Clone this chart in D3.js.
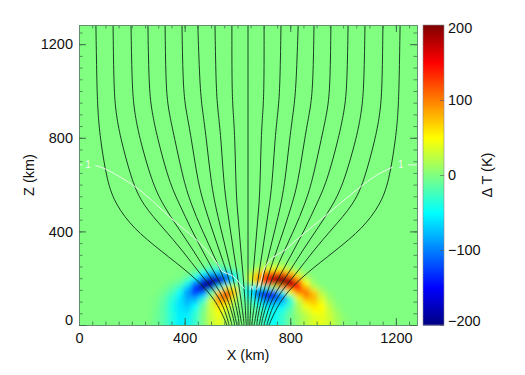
<!DOCTYPE html>
<html>
<head>
<meta charset="utf-8">
<script src="https://cdn.jsdelivr.net/npm/d3@7"></script>
<style>
  html, body { margin: 0; padding: 0; background: #fff; }
  text { font-family: "Liberation Sans", Arial, sans-serif; fill: #111; }
</style>
</head>
<body>
<svg id="chart" width="525" height="375"></svg>
<script>
// temperature difference (K)
const heatX = [290, 320, 350, 380, 410, 440, 470, 500, 530, 560, 590, 620, 650, 680, 710, 740, 770, 800, 830, 860, 890, 920, 950, 980, 1010];
const heatZ = [300, 280, 260, 240, 220, 200, 180, 160, 140, 120, 100, 80, 60, 40, 20, 0];
const heatValues = [
  [0, 0, 0, 0, 0, 0, 0, 0, 0, 0, 0, 0, 0, 0, 0, 0, 0, 0, 0, 0, 0, 0, 0, 0, 0],
  [0, 0, 0, 0, 0, 0, 0, 0, 0, 0, 0, 0, 0, 0, 3, 4, 3, 0, 0, 0, 0, 0, 0, 0, 0],
  [0, 0, 0, 0, 0, 0, -2, -6, -6, -3, 0, 0, 0, 4, 10, 14, 10, 5, 0, 0, 0, 0, 0, 0, 0],
  [0, 0, 0, 0, 0, -4, -12, -25, -28, -15, -5, 0, 5, 18, 35, 42, 38, 20, 6, 0, 0, 0, 0, 0, 0],
  [0, 0, 0, 0, -4, -15, -50, -80, -85, -70, -30, -5, 25, 70, 110, 120, 120, 80, 30, 6, 0, 0, 0, 0, 0],
  [0, 0, 0, -3, -15, -50, -110, -170, -180, -130, -45, -5, 40, 95, 150, 190, 205, 160, 80, 20, 3, 0, 0, 0, 0],
  [0, 0, -5, -12, -40, -100, -180, -230, -170, -70, -15, -15, 20, 70, 120, 170, 210, 200, 130, 50, 10, 0, 0, 0, 0],
  [0, -3, -12, -30, -70, -130, -190, -170, -40, 40, 40, -25, -45, -50, -30, 20, 90, 150, 140, 80, 25, 5, 0, 0, 0],
  [0, -6, -20, -45, -90, -130, -120, -20, 70, 120, 70, -25, -60, -120, -140, -110, -40, 50, 100, 105, 70, 20, 3, 0, 0],
  [-2, -12, -30, -55, -85, -95, -60, 10, 100, 115, 40, -15, -40, -95, -130, -140, -100, -20, 55, 95, 80, 30, 8, 0, 0],
  [-3, -14, -35, -60, -80, -70, -25, 35, 85, 75, 20, -8, -22, -55, -90, -90, -80, -35, 25, 65, 72, 42, 14, 2, 0],
  [-4, -16, -38, -60, -70, -50, -10, 30, 65, 45, 10, -5, -12, -30, -55, -65, -55, -25, 15, 45, 60, 50, 22, 5, 0],
  [-5, -17, -38, -58, -62, -38, -5, 30, 50, 30, 5, -3, -8, -18, -40, -50, -40, -15, 15, 32, 50, 48, 26, 8, 0],
  [-6, -17, -37, -55, -58, -32, 0, 28, 44, 22, 3, 0, -5, -15, -35, -48, -30, -8, 8, 24, 38, 42, 30, 14, 3],
  [-6, -17, -36, -55, -55, -30, 0, 26, 40, 18, 2, 0, -5, -15, -35, -48, -30, -8, 8, 22, 36, 40, 30, 14, 3],
  [-6, -17, -36, -55, -55, -30, 0, 26, 40, 18, 2, 0, -5, -15, -35, -48, -30, -8, 8, 22, 36, 40, 30, 14, 3]
];

// field lines: x (km) of each line at the heights in lineZ
const lineZ = [1282, 1004, 907, 808, 611, 513, 415, 316, 218, 120, 21, 0];
const fieldLines = [
  [64, 68, 72, 79, 106, 140, 204, 310, 424, 511, 553, 560],
  [129, 132, 140, 155, 201, 242, 318, 394, 458, 534, 564, 568],
  [197, 201, 211, 227, 276, 318, 375, 435, 488, 549, 575, 579],
  [261, 265, 277, 295, 341, 382, 422, 468, 516, 562, 587, 589],
  [326, 329, 341, 360, 397, 426, 462, 503, 542, 575, 594, 598],
  [390, 394, 407, 424, 450, 474, 502, 532, 562, 587, 606, 606],
  [450, 458, 469, 481, 500, 516, 536, 558, 580, 599, 613, 617],
  [515, 519, 527, 537, 548, 559, 572, 585, 599, 612, 624, 625],
  [579, 579, 584, 590, 594, 598, 606, 613, 621, 628, 632, 634],
  [640, 640, 640, 640, 640, 640, 640, 640, 640, 640, 640, 640],
  [701, 701, 696, 690, 686, 682, 674, 667, 659, 652, 648, 646],
  [765, 761, 753, 743, 732, 721, 708, 695, 681, 668, 656, 655],
  [830, 822, 811, 799, 780, 764, 744, 722, 700, 681, 667, 663],
  [890, 886, 873, 856, 830, 806, 778, 748, 718, 693, 674, 674],
  [954, 951, 939, 920, 883, 854, 818, 777, 738, 705, 686, 682],
  [1019, 1015, 1003, 985, 939, 898, 858, 812, 764, 718, 693, 691],
  [1083, 1079, 1069, 1053, 1004, 962, 905, 845, 792, 731, 705, 701],
  [1151, 1148, 1140, 1125, 1079, 1038, 962, 886, 822, 746, 716, 712],
  [1216, 1212, 1208, 1201, 1174, 1140, 1076, 970, 856, 769, 727, 720]
];

// white contour labelled 1, as [x, z] pieces
const whiteLine = [
  [[0, 684], [13, 684]],
  [[61, 681], [91, 671], [155, 633], [219, 586], [269, 539], [356, 449], [458, 350], [522, 265], [541, 231], [583, 209], [617, 167], [628, 154]],
  [[647, 150], [655, 167], [659, 150]],
  [[670, 150], [685, 175], [700, 235], [723, 278], [780, 321], [836, 376], [923, 457], [1014, 543], [1075, 598], [1128, 641], [1188, 675]],
  [[1245, 684], [1280, 684]]
];
const whiteLabels = [[34, 684], [1219, 684]];

const xTicks = [0, 400, 800, 1200];
const zTicks = [0, 400, 800, 1200];
const xMinor = d3.range(0, 1281, 50);
const zMinor = d3.range(0, 1281, 50);
const barTicks = [-200, -100, 0, 100, 200];

const left = 79, right = 417, top_ = 25, bottom = 325;
const barLeft = 423, barRight = 444;

const x = d3.scaleLinear().domain([0, 1280]).range([left, right]);
const y = d3.scaleLinear().domain([0, 1282]).range([bottom, top_]);
const barY = d3.scaleLinear().domain([-200, 200]).range([bottom, top_]);
const color = d3.scaleLinear()
  .domain([-200, -150, -50, 50, 150, 200])
  .range(["#000080", "#0000ff", "#00ffff", "#ffff00", "#ff0000", "#800000"])
  .clamp(true);

const svg = d3.select("#chart");
const defs = svg.append("defs");
defs.append("clipPath").attr("id", "plot")
  .append("rect").attr("x", left).attr("y", top_).attr("width", right - left).attr("height", bottom - top_);
defs.append("filter").attr("id", "soft")
  .attr("filterUnits", "userSpaceOnUse")
  .attr("x", left - 20).attr("y", top_ - 20).attr("width", right - left + 40).attr("height", bottom - top_ + 40)
  .append("feGaussianBlur").attr("stdDeviation", 2.6);

// heat map
const plot = svg.append("g").attr("clip-path", "url(#plot)");
const heat = plot.append("g").attr("filter", "url(#soft)");
heat.append("rect")
  .attr("x", left - 20).attr("y", top_ - 20)
  .attr("width", right - left + 40).attr("height", bottom - top_ + 40)
  .attr("fill", color(0));

const cells = heatZ.flatMap((z, r) => heatX.map((xv, c) => ({ x: xv, z: z, v: heatValues[r][c] })));
const cw = x(30) - x(0), ch = y(0) - y(20);
heat.selectAll("rect.cell")
  .data(cells)
  .join("rect")
    .attr("class", "cell")
    .attr("x", d => x(d.x) - cw / 2)
    .attr("y", d => y(d.z) - ch / 2)
    .attr("width", cw + 0.5)
    .attr("height", d => d.z === 0 ? ch * 3 : ch + 0.5)
    .attr("fill", d => color(d.v));

// field lines
const fieldPath = d3.line().x(d => x(d[0])).y(d => y(d[1])).curve(d3.curveBasis);
plot.selectAll("path.field")
  .data(fieldLines)
  .join("path")
    .attr("class", "field")
    .attr("d", row => fieldPath(row.map((v, i) => [v, lineZ[i]])))
    .attr("fill", "none")
    .attr("stroke", "#0c2a16")
    .attr("stroke-width", 0.9);

// white contour
const whitePath = d3.line().x(d => x(d[0])).y(d => y(d[1])).curve(d3.curveCatmullRom.alpha(0.5));
plot.selectAll("path.white")
  .data(whiteLine)
  .join("path")
    .attr("class", "white")
    .attr("d", whitePath)
    .attr("fill", "none")
    .attr("stroke", "#f4fbf4")
    .attr("stroke-opacity", 0.9)
    .attr("stroke-width", 1);
svg.selectAll("text.one")
  .data(whiteLabels)
  .join("text")
    .attr("class", "one")
    .attr("x", d => x(d[0]))
    .attr("y", d => y(d[1]) + 3.5)
    .attr("text-anchor", "middle")
    .style("fill", "#eefbee")
    .style("font-size", "10px")
    .text("1");

// axes: inward ticks, minor then major
const tickColor = "#3d6e4c";
function addAxis(axisFn, scale, minor, major, tx, ty, showLabels) {
  const minorG = svg.append("g").attr("transform", `translate(${tx},${ty})`)
    .call(axisFn(scale).tickValues(minor).tickSize(-3.5).tickFormat(""));
  const majorG = svg.append("g").attr("transform", `translate(${tx},${ty})`)
    .call(axisFn(scale).tickValues(major).tickSize(-7).tickPadding(12)
      .tickFormat(showLabels ? d3.format("d") : ""));
  minorG.selectAll(".tick line").attr("stroke", tickColor).attr("stroke-width", 0.8);
  majorG.selectAll(".tick line").attr("stroke", tickColor).attr("stroke-width", 1);
  minorG.select(".domain").remove();
  majorG.select(".domain").attr("stroke", "#5f8f6d").attr("stroke-width", 1);
  majorG.selectAll("text").style("font-size", "14.5px");
  return majorG;
}

const xAxisG = addAxis(d3.axisBottom, x, xMinor, xTicks, 0, bottom, true);
xAxisG.selectAll("text").attr("y", 8);
addAxis(d3.axisTop, x, xMinor, xTicks, 0, top_, false);
const zAxisG = addAxis(d3.axisLeft, y, zMinor, zTicks, left, 0, true);
zAxisG.selectAll("text").attr("x", -6);
zAxisG.selectAll(".tick text").filter(d => d === 0).attr("dy", "-0.03em");
addAxis(d3.axisRight, y, zMinor, zTicks, right, 0, false);

// colour bar
const barLevels = d3.range(-200, 200, 2);
svg.append("g").selectAll("rect")
  .data(barLevels)
  .join("rect")
    .attr("x", barLeft)
    .attr("y", d => barY(d + 2))
    .attr("width", barRight - barLeft)
    .attr("height", barY(d3.min(barLevels)) - barY(d3.min(barLevels) + 2) + 0.5)
    .attr("fill", d => color(d + 1));
svg.append("rect")
  .attr("x", barLeft).attr("y", top_)
  .attr("width", barRight - barLeft).attr("height", bottom - top_)
  .attr("fill", "none").attr("stroke", "#8a8a8a").attr("stroke-width", 0.6);
const barAxis = svg.append("g").attr("transform", `translate(${barRight},0)`)
  .call(d3.axisRight(barY).tickValues(barTicks).tickSize(-4).tickPadding(8).tickFormat(d3.format("d")));
barAxis.select(".domain").remove();
barAxis.selectAll("line").attr("stroke", "#555").attr("stroke-width", 0.6);
barAxis.selectAll("text").style("font-size", "14.5px").attr("x", 4)
  .attr("dy", d => d === 200 ? "0.55em" : d === -200 ? "0.02em" : "0.32em");

// titles
svg.append("text").attr("x", 248).attr("y", 360).attr("text-anchor", "middle")
  .style("font-size", "14.5px").text("X (km)");
svg.append("text").attr("transform", "translate(34,175) rotate(-90)").attr("text-anchor", "middle")
  .style("font-size", "14.5px").text("Z (km)");
svg.append("text").attr("transform", "translate(492,175) rotate(-90)").attr("text-anchor", "middle")
  .style("font-size", "14.5px").text("Δ T (K)");
</script>
</body>
</html>
